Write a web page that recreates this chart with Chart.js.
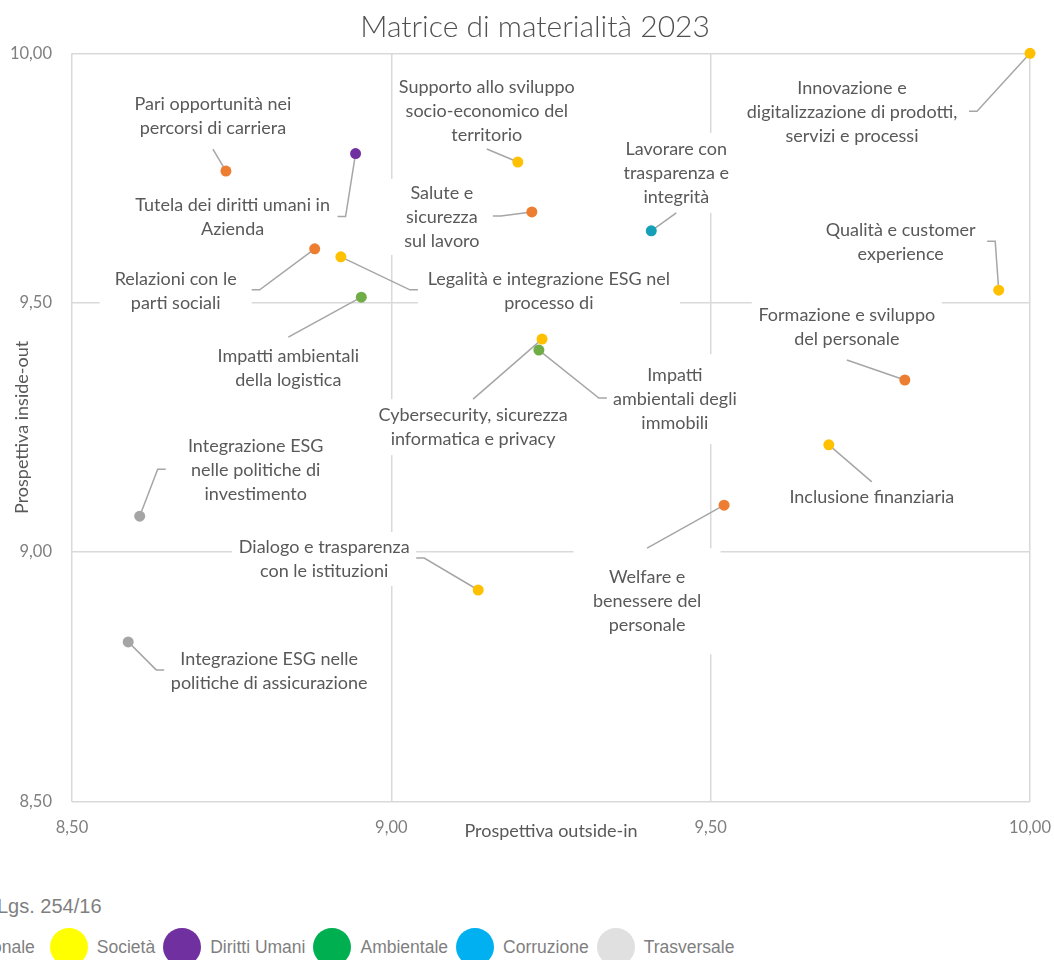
<!DOCTYPE html>
<html lang="it">
<head>
<meta charset="utf-8">
<title>Matrice di materialità 2023</title>
<script src="https://cdn.jsdelivr.net/npm/chart.js@4.4.1/dist/chart.umd.min.js"></script>
<style>
  html, body { margin: 0; padding: 0; background: #fff; }
  body { width: 1054px; height: 960px; position: relative; overflow: hidden; font-family: "Liberation Sans", Arial, sans-serif; }
  #wrap { position: absolute; left: 0; top: 0; width: 1054px; height: 860px; }
  #note { position: absolute; left: -23px; top: 896px; font-size: 20px; line-height: 20px; color: #7f7f7f; white-space: nowrap; }
  #legend { position: absolute; left: -91px; top: 928px; display: flex; align-items: center; white-space: nowrap; font-size: 17.5px; line-height: 18px; color: #7f7f7f; }
  .dot { width: 38px; height: 38px; border-radius: 50%; margin-right: 9px; flex: none; }
  .name { margin-right: 8px; }
  .name:nth-child(2) { margin-right: 15px; }
</style>
</head>
<body>
<div id="wrap"><canvas id="matrix"></canvas></div>
<div id="note">D.Lgs. 254/16</div>
<div id="legend"></div>

<script>
// temi materiali, in ordine
const topics = [
  "Innovazione e\ndigitalizzazione di prodotti,\nservizi e processi",
  "Qualità e customer\nexperience",
  "Formazione e sviluppo\ndel personale",
  "Inclusione finanziaria",
  "Welfare e\nbenessere del\npersonale",
  "Lavorare con\ntrasparenza e\nintegrità",
  "Supporto allo sviluppo\nsocio-economico del\nterritorio",
  "Salute e\nsicurezza\nsul lavoro",
  "Legalità e integrazione ESG nel\nprocesso di",
  "Relazioni con le\nparti sociali",
  "Tutela dei diritti umani in\nAzienda",
  "Pari opportunità nei\npercorsi di carriera",
  "Impatti ambientali\ndella logistica",
  "Cybersecurity, sicurezza\ninformatica e privacy",
  "Impatti\nambientali degli\nimmobili",
  "Integrazione ESG\nnelle politiche di\ninvestimento",
  "Integrazione ESG nelle\npolitiche di assicurazione",
  "Dialogo e trasparenza\ncon le istituzioni"
];
const outsideIn = [10.00, 9.951, 9.804, 9.685, 9.521, 9.407, 9.198, 9.220, 8.921, 8.880, 8.944, 8.741, 8.953, 9.236, 9.231, 8.606, 8.588, 9.136];
const insideOut = [10.00, 9.525, 9.345, 9.215, 9.094, 9.644, 9.782, 9.682, 9.592, 9.608, 9.799, 9.764, 9.511, 9.427, 9.405, 9.072, 8.820, 8.924];
const pillar = ["Società", "Società", "Personale", "Società", "Personale", "Corruzione", "Società", "Personale", "Società",
  "Personale", "Diritti Umani", "Personale", "Ambientale", "Società", "Ambientale", "Trasversale", "Trasversale", "Società"];

const pillarNames = ["Personale", "Società", "Diritti Umani", "Ambientale", "Corruzione", "Trasversale"];
const pointColors = ["#ED7D31", "#FFC000", "#7030A0", "#70AD47", "#14A0B6", "#A5A5A5"];
const legendColors = ["#ED7D31", "#FFFF00", "#7030A0", "#00B050", "#00B0F0", "#E0E0E0"];

const xTicks = [8.5, 9, 9.5, 10];
const yTicks = [8.5, 9, 9.5, 10];
const chartTitle = "Matrice di materialità 2023";

// posizione delle etichette rispetto al punto (px): centro, box, lato del connettore
const labelLayout = [
  { dx: -178, dy: 59, w: 234, h: 84, side: "right" },
  { dx: -98, dy: -48, w: 173, h: 60, side: "right" },
  { dx: -58, dy: -53, w: 190, h: 66, side: "bottom" },
  { dx: 43, dy: 52, w: 176, h: 30, side: "top" },
  { dx: -77, dy: 96, w: 147, h: 106, side: "top" },
  { dx: 25, dy: -58, w: 186, h: 80, side: "bottom" },
  { dx: -31, dy: -51, w: 180, h: 76, side: "bottom" },
  { dx: -90, dy: 5, w: 102, h: 76, side: "right" },
  { dx: 208, dy: 34, w: 262, h: 61, side: "left" },
  { dx: -139, dy: 42, w: 152, h: 60, side: "right" },
  { dx: -123, dy: 64, w: 210, h: 60, side: "right" },
  { dx: -13, dy: -55, w: 170, h: 66, side: "bottom" },
  { dx: -73, dy: 71, w: 162, h: 62, side: "top" },
  { dx: -69, dy: 88, w: 200, h: 56, side: "top" },
  { dx: 136, dy: 49, w: 136, h: 90, side: "left" },
  { dx: 116, dy: -46, w: 180, h: 84, side: "left" },
  { dx: 141, dy: 29, w: 210, h: 60, side: "left" },
  { dx: -154, dy: -31, w: 184, h: 54, side: "right" }
];

function fmt(v) {
  return Number(v).toFixed(2).replace(".", ",");
}

// titolo centrato come nell'originale (non sul canvas intero)
const titleText = {
  id: "titleText",
  afterDraw(chart) {
    const ctx = chart.ctx;
    ctx.save();
    ctx.fillStyle = "#505050";
    ctx.font = "300 30px Lato";
    ctx.textAlign = "center";
    ctx.textBaseline = "middle";
    ctx.fillText(chartTitle, chart.width / 2 + 8, 27);
    ctx.restore();
  }
};

const topicLabels = {
  id: "topicLabels",
  beforeDatasetsDraw(chart) {
    const ctx = chart.ctx;
    const meta = chart.getDatasetMeta(0);
    const boxes = meta.data.map((pt, i) => {
      const l = labelLayout[i];
      const cx = pt.x + l.dx;
      const cy = pt.y + l.dy;
      return { pt, l, cx, cy, lines: topics[i].split("\n"),
        x0: cx - l.w / 2, x1: cx + l.w / 2, y0: cy - l.h / 2, y1: cy + l.h / 2 };
    });

    ctx.save();
    ctx.fillStyle = "#ffffff";
    boxes.forEach(b => ctx.fillRect(b.x0, b.y0, b.x1 - b.x0, b.y1 - b.y0));

    ctx.strokeStyle = "#a6a6a6";
    ctx.lineWidth = 1.5;
    boxes.forEach(b => {
      ctx.beginPath();
      ctx.moveTo(b.pt.x, b.pt.y);
      if (b.l.side === "left" || b.l.side === "right") {
        const ax = b.l.side === "left" ? b.x0 : b.x1;
        const ex = b.l.side === "left" ? ax - 8 : ax + 8;
        ctx.lineTo(ex, b.cy - 1);
        ctx.lineTo(ax, b.cy - 1);
      } else {
        ctx.lineTo(b.cx, b.l.side === "top" ? b.y0 : b.y1);
      }
      ctx.stroke();
    });

    ctx.fillStyle = "#595959";
    ctx.font = "18px Lato";
    ctx.textAlign = "center";
    ctx.textBaseline = "middle";
    boxes.forEach(b => {
      b.lines.forEach((line, k) => {
        ctx.fillText(line, b.cx, b.cy + (k - (b.lines.length - 1) / 2) * 24);
      });
    });
    ctx.restore();
  }
};

function renderLegend() {
  const legend = document.getElementById("legend");
  legend.innerHTML = pillarNames
    .map((name, i) => `<span class="dot" style="background:${legendColors[i]}"></span><span class="name">${name}</span>`)
    .join("");
}

function renderChart() {
  const ctx = document.getElementById("matrix").getContext("2d");

  new Chart(ctx, {
    type: "scatter",
    data: {
      datasets: [
        {
          label: "Temi materiali",
          data: topics.map((t, i) => ({ x: outsideIn[i], y: insideOut[i] })),
          pointBackgroundColor: pillar.map(p => pointColors[pillarNames.indexOf(p)]),
          pointBorderWidth: 0,
          pointRadius: 5.5,
          pointHoverRadius: 5.5,
          clip: false
        }
      ]
    },
    options: {
      responsive: true,
      maintainAspectRatio: false,
      animation: false,
      events: [],
      layout: { padding: { left: 0, right: 24, top: 53.3, bottom: 0 } },
      plugins: {
        legend: { display: false },
        tooltip: { enabled: false },
        title: { display: false }
      },
      scales: {
        x: {
          type: "linear",
          min: 8.5,
          max: 10,
          afterBuildTicks: s => { s.ticks = xTicks.map(v => ({ value: v })); },
          afterFit: s => { s.height = 58.5; s.paddingLeft = 0; s.paddingRight = 0; },
          grid: { color: "#d9d9d9", lineWidth: 1.5, drawTicks: false },
          border: { display: false },
          ticks: { padding: 16, color: "#7f7f7f", font: { family: "Lato", size: 16.5 }, callback: fmt },
          title: {
            display: true,
            text: "Prospettiva outside-in",
            color: "#595959",
            font: { family: "Lato", size: 18 },
            padding: { top: 0, bottom: 18 }
          }
        },
        y: {
          type: "linear",
          min: 8.5,
          max: 10,
          afterBuildTicks: s => { s.ticks = yTicks.map(v => ({ value: v })); },
          afterFit: s => { s.width = 72; s.paddingTop = 0; s.paddingBottom = 0; },
          grid: { color: "#d9d9d9", lineWidth: 1.5, drawTicks: false },
          border: { display: false },
          ticks: { padding: 20, color: "#7f7f7f", font: { family: "Lato", size: 16.5 }, callback: fmt },
          title: {
            display: true,
            text: "Prospettiva inside-out",
            color: "#595959",
            font: { family: "Lato", size: 18 },
            padding: { top: 11, bottom: 0 }
          }
        }
      }
    },
    plugins: [topicLabels, titleText]
  });
}

renderLegend();
Promise.all([
  document.fonts.load("18px Lato"),
  document.fonts.load("300 30px Lato")
]).catch(() => {}).then(renderChart);
</script>
</body>
</html>
